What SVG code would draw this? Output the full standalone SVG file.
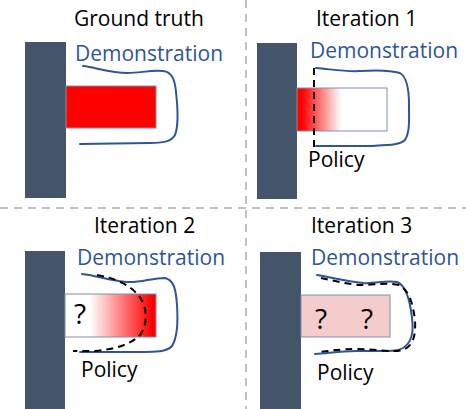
<svg xmlns="http://www.w3.org/2000/svg" width="466" height="409" viewBox="0 0 466 409">
<style>
.t{font-family:"Open Sans","Liberation Sans",sans-serif;font-size:21px;fill:#000}
.d{font-family:"Open Sans","Liberation Sans",sans-serif;font-size:21px;fill:#2F5597}
.q{font-family:"Open Sans","Liberation Sans",sans-serif;font-size:28px;fill:#000}
.bar{fill:#44546A}
.box{stroke:#8090A8;stroke-width:1}
.demo{fill:none;stroke:#2F5597;stroke-width:2;stroke-linecap:round}
.pol{fill:none;stroke:#000;stroke-width:2;stroke-dasharray:7,5}
.div{stroke:#C0C0C0;stroke-width:2;stroke-dasharray:8,6}
</style>
<defs>
<linearGradient id="g1" x1="297" y1="0" x2="341" y2="0" gradientUnits="userSpaceOnUse">
<stop offset="0.12" stop-color="#FF0000"/><stop offset="1" stop-color="#FFFFFF"/>
</linearGradient>
<linearGradient id="g2" x1="90" y1="0" x2="152" y2="0" gradientUnits="userSpaceOnUse">
<stop offset="0" stop-color="#FFFFFF"/><stop offset="1" stop-color="#FF0000"/>
</linearGradient>
</defs>
<rect width="466" height="409" fill="#fff"/>
<g id="dividers">
<line class="div" x1="246" y1="0" x2="246" y2="409"/>
<line class="div" x1="0" y1="208" x2="466" y2="208"/>
</g>
<g id="panel1">
<text class="t" x="74" y="26">Ground truth</text>
<rect class="bar" x="25" y="42" width="41" height="156"/>
<rect class="box" x="66" y="86" width="90" height="42" fill="#FF0000"/>
<text class="d" x="75" y="61">Demonstration</text>
</g>
<g id="panel2">
<text class="t" x="316" y="26">Iteration 1</text>
<rect class="bar" x="257" y="43" width="40" height="156"/>
<rect class="box" x="297" y="88" width="90" height="43" fill="url(#g1)"/>
<text class="d" x="310" y="58">Demonstration</text>
<text class="t" x="308" y="167">Policy</text>
</g>
<g id="panel3">
<text class="t" x="94" y="233">Iteration 2</text>
<rect class="bar" x="25" y="251" width="40" height="158"/>
<rect class="box" x="65" y="294" width="91" height="43" fill="url(#g2)"/>
<text class="q" x="74" y="324">?</text>
<text class="d" x="77" y="265">Demonstration</text>
<text class="t" x="81" y="377">Policy</text>
</g>
<g id="panel4">
<text class="t" x="311" y="233">Iteration 3</text>
<rect class="bar" x="260" y="252" width="41" height="157"/>
<rect class="box" x="301" y="295" width="89" height="42" fill="#F4CCCC"/>
<text class="q" x="315" y="329">?</text>
<text class="q" x="361" y="329">?</text>
<text class="d" x="311" y="265">Demonstration</text>
<text class="t" x="317" y="380">Policy</text>
</g>
<g id="connectors">
<path class="demo" d="M83,66 C95,67 110,73 127,73 C140,73 150,70 163,71 C172,72 175,80 176,92 C178,110 179,125 175,135 C171,142 162,143 150,143 L80,144"/>
<path class="demo" d="M316,68 C330,69 345,72 360,71 C375,70 390,70 400,73 C407,77 409,90 409,105 C409,120 410,132 405,140 C400,145 390,145 370,146 L316,146"/>
<line class="pol" x1="314" y1="68" x2="314" y2="147"/>
<path class="demo" d="M82,274 C95,275 110,281 127,282 C140,283 152,278 165,278 C174,280 176,290 177,305 C178,320 177,338 172,346 C167,352 155,352 140,352 L80,352"/>
<path class="pol" d="M97,275 C115,278 130,285 138,295 C148,305 148,325 140,335 C130,345 115,349 95,351 L73,351"/>
<path class="demo" d="M317,275 C330,277 345,281 363,283 C375,284 385,280 397,282 C405,285 410,300 412,318 C414,332 411,343 403,348 C396,352 385,351 357,351 C340,351 330,353 315,354"/>
<path class="pol" d="M321,278 C335,281 350,285 363,285 C375,285 387,282 399,285 C409,290 413,304 415,320 C416,336 413,346 403,350 C392,353 375,349 357,349 C340,349 330,351 318,352"/>
</g>
</svg>
